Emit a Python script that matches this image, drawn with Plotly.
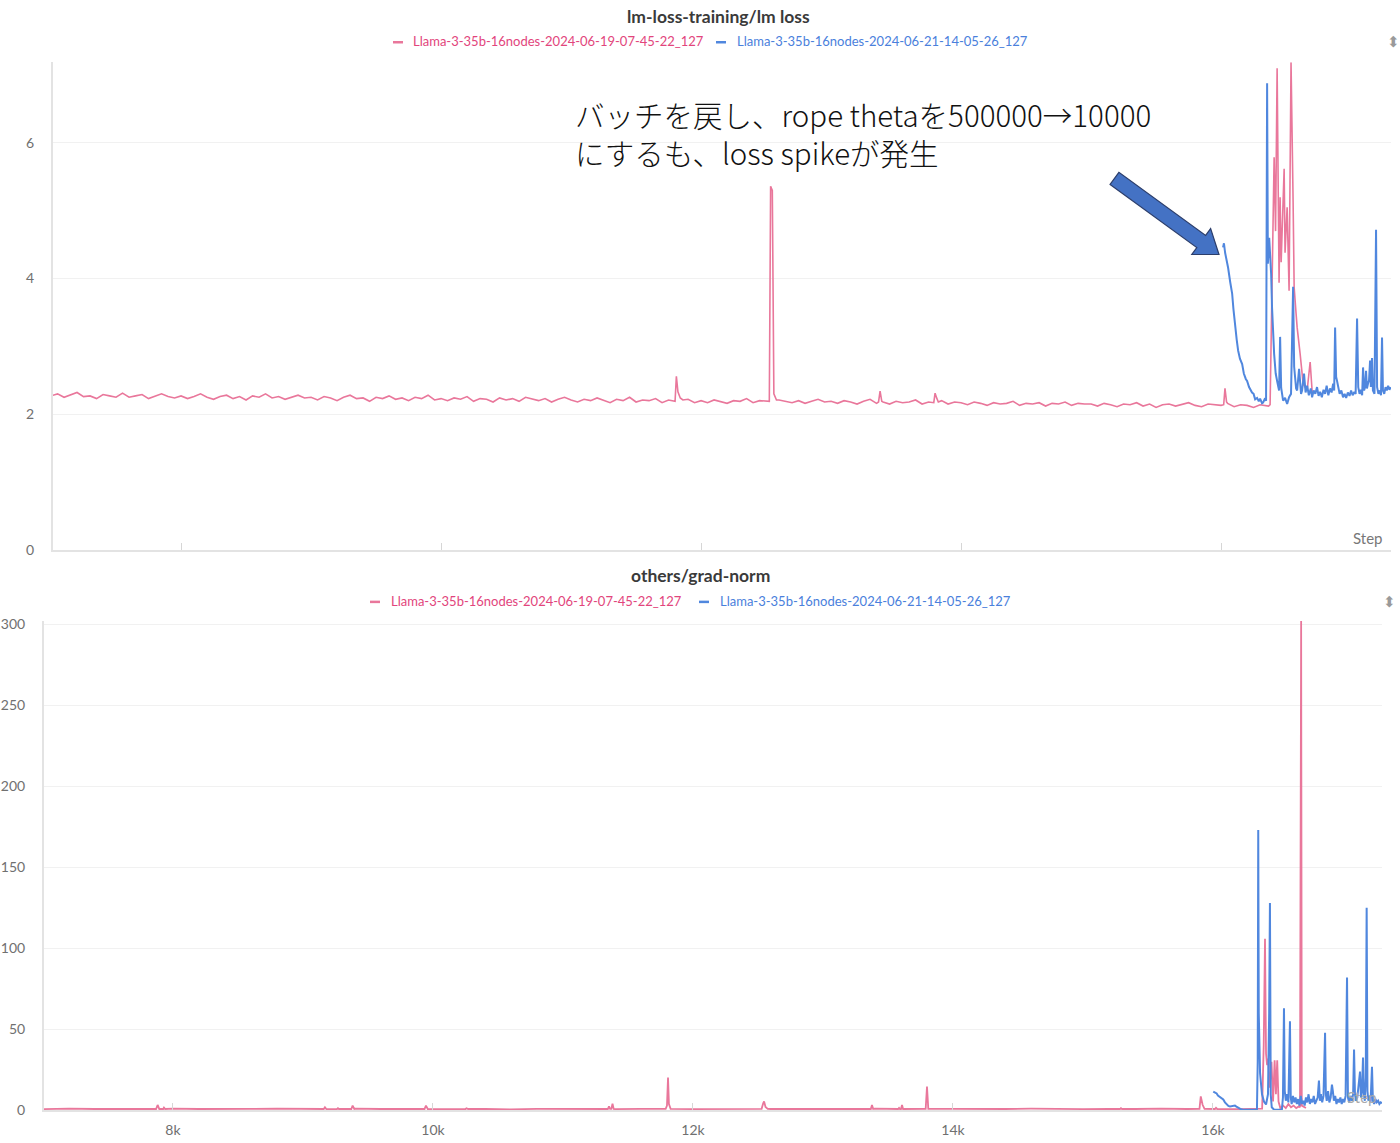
import math
import plotly.graph_objects as go

# ---------------- DATA ----------------
RUN_A = "Llama-3-35b-16nodes-2024-06-19-07-45-22_127"
RUN_B = "Llama-3-35b-16nodes-2024-06-21-14-05-26_127"

# lm loss, run A: baseline sampled every 50 steps from step 7000
loss_a_base_start = 7000
loss_a_base_step = 50
loss_a_base = [
    2.27, 2.30, 2.25, 2.28, 2.32, 2.26, 2.27, 2.23, 2.29, 2.27, 2.25, 2.31, 2.25, 2.27, 2.29, 2.23, 2.27, 2.30, 2.26, 2.24,
    2.27, 2.23, 2.26, 2.30, 2.25, 2.22, 2.26, 2.28, 2.23, 2.26, 2.21, 2.27, 2.25, 2.30, 2.24, 2.26, 2.22, 2.25, 2.28, 2.24,
    2.25, 2.21, 2.26, 2.24, 2.20, 2.25, 2.28, 2.23, 2.24, 2.19, 2.25, 2.23, 2.27, 2.22, 2.24, 2.20, 2.25, 2.23, 2.28, 2.21,
    2.23, 2.20, 2.24, 2.22, 2.26, 2.19, 2.23, 2.22, 2.18, 2.24, 2.21, 2.23, 2.19, 2.25, 2.22, 2.20, 2.23, 2.18, 2.22, 2.25,
    2.21, 2.18, 2.22, 2.20, 2.24, 2.21, 2.17, 2.22, 2.20, 2.25, 2.18, 2.21, 2.20, 2.23, 2.17, 2.21, 2.19, 2.20, 2.22, 2.17,
    2.20, 2.17, 2.21, 2.19, 2.16, 2.20, 2.19, 2.23, 2.17, 2.20, 2.19, 2.16, 2.21, 2.19, 2.17, 2.20, 2.16, 2.19, 2.22, 2.18,
    2.19, 2.16, 2.20, 2.18, 2.15, 2.19, 2.22, 2.16, 2.18, 2.15, 2.19, 2.17, 2.18, 2.21, 2.15, 2.18, 2.17, 2.20, 2.15, 2.18,
    2.17, 2.14, 2.18, 2.16, 2.13, 2.17, 2.15, 2.16, 2.19, 2.13, 2.16, 2.15, 2.17, 2.12, 2.16, 2.15, 2.18, 2.13, 2.16, 2.15,
    2.15, 2.12, 2.16, 2.14, 2.11, 2.15, 2.14, 2.17, 2.12, 2.15, 2.10, 2.14, 2.15, 2.12, 2.14, 2.17, 2.13, 2.11, 2.15, 2.14,
    2.13, 2.16, 2.11, 2.14, 2.13, 2.10, 2.14, 2.13,
]
loss_a_bursts = [
    [(11800, 2.19), (11810, 2.56), (11822, 2.33), (11840, 2.24), (11860, 2.21)],
    [(12525, 2.19), (12535, 5.36), (12548, 5.30), (12560, 2.30), (12580, 2.21)],
    [(13365, 2.18), (13377, 2.34), (13390, 2.19)],
    [(13790, 2.17), (13800, 2.31), (13812, 2.24), (13825, 2.18)],
    [(16020, 2.14), (16030, 2.38), (16042, 2.18)],
    [(16365, 2.12), (16377, 2.14), (16408, 5.79), (16419, 4.70), (16431, 7.10), (16446, 3.94),
     (16454, 5.20), (16462, 4.24), (16485, 5.62), (16492, 4.38), (16508, 5.05), (16523, 3.82),
     (16538, 7.19), (16554, 5.13), (16562, 3.87), (16577, 3.48), (16585, 3.28), (16608, 2.89),
     (16631, 2.45), (16662, 2.35), (16685, 2.77), (16700, 2.35), (16715, 2.32)],
]

# lm loss, run B
loss_b_steps = [
    16015, 16022, 16031, 16040, 16054, 16070, 16085, 16095, 16108, 16120, 16131, 16145, 16162, 16175,
    16190, 16200, 16215, 16225, 16238, 16250, 16262, 16277, 16290, 16300, 16315, 16323, 16335, 16346,
    16354, 16360, 16370, 16385, 16392, 16408, 16420, 16431, 16446, 16454, 16462, 16477, 16492, 16508,
    16523, 16538, 16554, 16562, 16569, 16577, 16585, 16600, 16615, 16623, 16638, 16650, 16662, 16675,
    16690, 16700, 16712, 16725, 16738, 16750, 16762, 16775, 16788, 16800, 16812, 16825, 16838, 16850,
    16862, 16870, 16877, 16885, 16892, 16900, 16912, 16925, 16938, 16950, 16962, 16975, 16988, 17000,
    17012, 17025, 17035, 17046, 17055, 17065, 17075, 17085, 17092, 17100, 17108, 17115, 17122, 17130,
    17138, 17146, 17152, 17161, 17168, 17180, 17192, 17200, 17210, 17220, 17230, 17238, 17245, 17255,
    17265, 17275, 17285, 17295, 17305,
]
loss_b_values = [
    4.46, 4.52, 4.38, 4.30, 4.16, 3.95, 3.78, 3.55, 3.28, 3.10, 2.94, 2.82, 2.74, 2.60,
    2.52, 2.49, 2.40, 2.36, 2.32, 2.30, 2.22, 2.24, 2.19, 2.23, 2.16, 2.17, 2.22, 2.20,
    6.88, 4.22, 4.60, 4.07, 3.57, 2.89, 2.60, 2.49, 2.35, 3.14, 2.39, 2.20, 2.24, 2.15,
    2.25, 2.30, 3.88, 2.70, 2.49, 2.38, 2.35, 2.67, 2.30, 2.35, 2.60, 2.32, 2.42, 2.28,
    2.38, 2.25, 2.35, 2.30, 2.40, 2.27, 2.33, 2.25, 2.36, 2.30, 2.42, 2.28, 2.38, 2.32,
    2.45, 2.35, 3.28, 2.55, 2.49, 2.40, 2.30, 2.35, 2.25, 2.30, 2.24, 2.32, 2.27, 2.35,
    2.28, 2.33, 2.30, 3.41, 2.40, 2.30, 2.36, 2.28, 2.69, 2.35, 2.40, 2.64, 2.38, 2.45,
    2.50, 2.79, 2.40, 2.83, 2.35, 2.30, 4.72, 2.40, 2.30, 2.35, 2.28, 3.13, 2.35, 2.30,
    2.40, 2.35, 2.42, 2.36, 2.40,
]

# grad-norm, run A: baseline sampled every 200 steps from step 7000
grad_a_base_start = 7000
grad_a_base_step = 200
grad_a_base = [
    0.8, 1.2, 0.9, 1.0, 0.7, 1.1, 0.9, 0.8, 1.0, 1.2, 0.9, 0.8, 1.1, 0.9, 1.0, 0.8,
    1.1, 0.9, 0.7, 1.0, 0.9, 1.1, 0.8, 1.0, 0.9, 0.8, 1.0, 1.1, 0.9, 0.8, 1.0, 0.9,
    1.1, 0.8, 0.9, 1.0, 0.8, 0.9, 1.1, 0.9, 0.8, 1.0, 0.9, 1.2, 0.9, 1.0, 0.8,
]
grad_a_bursts = [
    [(7870, 0.9), (7882, 3.4), (7895, 0.9)],
    [(7925, 0.9), (7931, 1.8), (7940, 0.9)],
    [(9160, 0.9), (9169, 2.0), (9180, 0.9)],
    [(9262, 0.9), (9269, 1.4), (9276, 0.9)],
    [(9372, 0.9), (9382, 3.0), (9395, 0.9)],
    [(9935, 0.9), (9946, 3.0), (9960, 0.9)],
    [(10250, 0.9), (10258, 1.4), (10270, 0.9)],
    [(11345, 0.9), (11354, 2.6), (11362, 1.0), (11372, 1.0), (11381, 4.2), (11390, 0.9)],
    [(11790, 1.0), (11800, 3.0), (11808, 20.3), (11815, 4.0), (11828, 1.0)],
    [(12528, 1.0), (12540, 4.4), (12547, 5.6), (12558, 2.2), (12575, 1.0)],
    [(13368, 0.9), (13377, 3.4), (13386, 0.9)],
    [(13578, 0.9), (13585, 1.6), (13592, 0.9), (13600, 0.9), (13608, 3.4), (13616, 0.9)],
    [(13790, 1.0), (13800, 14.8), (13810, 1.0)],
    [(15285, 0.9), (15292, 1.4), (15300, 0.9)],
    [(15896, 1.0), (15906, 8.7), (15920, 3.5), (15935, 1.0)],
    [(16015, 0.9), (16023, 1.6), (16032, 0.9)],
    [(16360, 1.0), (16378, 1.2), (16390, 40), (16400, 106), (16408, 35), (16416, 28), (16424, 32),
     (16436, 14), (16450, 30), (16462, 5.5), (16474, 31), (16484, 10), (16494, 31), (16504, 5.5),
     (16518, 1.5), (16540, 3), (16560, 1.5), (16580, 4), (16600, 2), (16620, 3), (16640, 1.5),
     (16660, 2.5), (16669, 2), (16673, 302), (16678, 302), (16683, 3), (16700, 2), (16715, 1.5)],
]

# grad-norm, run B
grad_b_steps = [
    16002, 16015, 16028, 16038, 16048, 16058, 16067, 16079, 16092, 16105, 16118, 16131, 16150, 16169,
    16180, 16192, 16210, 16231, 16260, 16300, 16338, 16344, 16348, 16352, 16356, 16362, 16370, 16377,
    16392, 16408, 16423, 16432, 16438, 16444, 16452, 16470, 16500, 16530, 16538, 16546, 16552, 16560,
    16570, 16580, 16592, 16598, 16605, 16615, 16625, 16635, 16645, 16655, 16665, 16675, 16685, 16695,
    16705, 16715, 16725, 16735, 16745, 16755, 16765, 16775, 16785, 16795, 16805, 16815, 16822, 16830,
    16840, 16850, 16862, 16868, 16875, 16885, 16895, 16905, 16915, 16922, 16930, 16940, 16950, 16960,
    16970, 16980, 16990, 17000, 17010, 17020, 17031, 17038, 17048, 17058, 17068, 17078, 17085, 17092,
    17100, 17110, 17120, 17131, 17138, 17146, 17154, 17160, 17168, 17175, 17182, 17188, 17195, 17205,
    17212, 17223, 17230, 17240, 17250, 17260, 17270, 17280, 17290, 17300,
]
grad_b_values = [
    11.7, 11.0, 10.5, 9.2, 8.6, 7.8, 7.4, 6.8, 5.0, 3.7, 2.8, 2.5, 2.7, 3.0,
    2.4, 1.8, 1.0, 0.5, 0.4, 0.4, 0.5, 30, 173, 60, 28, 23, 16, 10,
    5.5, 3.7, 10, 60, 128, 10, 2, 0.5, 0.5, 0.6, 8, 63, 12, 6,
    10, 5, 55, 8, 4, 9, 5, 8, 4, 7, 3, 9, 4, 6,
    3, 8, 5, 10, 4, 7, 5, 9, 4, 6, 8, 18.5, 6, 10,
    5, 9, 48, 10, 6, 12, 5, 8, 16, 12, 6, 9, 4, 7,
    5, 8, 4, 7, 5, 9, 82, 8, 5, 9, 6, 10, 37.6, 10,
    6, 8, 14, 24, 8, 12, 32.7, 10, 6, 20, 125, 12, 6, 9,
    5, 27, 6, 4, 7, 5, 6, 4, 5, 4.5,
]

x_tick_vals = [8000, 10000, 12000, 14000, 16000]
x_tick_text = ["8k", "10k", "12k", "14k", "16k"]
loss_tick_vals = [0, 2, 4, 6]
grad_tick_vals = [0, 50, 100, 150, 200, 250, 300]

TITLE_TOP = "lm-loss-training/lm loss"
TITLE_BOTTOM = "others/grad-norm"
NOTE = "バッチを戻し、rope thetaを500000→10000<br>にするも、loss spikeが発生"


def merge(start, step, base, bursts):
    pts = [(start + i * step, v) for i, v in enumerate(base)]
    for b in bursts:
        lo, hi = b[0][0], b[-1][0]
        pts = [p for p in pts if not (lo <= p[0] <= hi)]
        pts.extend(b)
    pts.sort()
    xs, ys = zip(*pts)
    return list(xs), list(ys)


loss_a_steps, loss_a_values = merge(loss_a_base_start, loss_a_base_step, loss_a_base, loss_a_bursts)
grad_a_steps, grad_a_values = merge(grad_a_base_start, grad_a_base_step, grad_a_base, grad_a_bursts)

# ---------------- STYLE ----------------
W = 1400
Y0, YSPAN = 5.8, 1127.7   # vertical pixel span that the paper occupies in the rendered page
PINK = "#E9779B"
BLUE = "#5087DE"
PINK_TXT = "#E2457C"
BLUE_TXT = "#4A80DC"
AXIS = "#e3e3e3"
GRID = "#f1f1f1"
TICKC = "#707070"
FONT = "Lato"


def px(p):
    return p / W


def py(p):
    return 1 - (p - Y0) / YSPAN


fig = go.Figure()
fig.add_trace(go.Scatter(x=loss_a_steps, y=loss_a_values, mode="lines", name=RUN_A,
                         line=dict(color=PINK, width=1.6), xaxis="x", yaxis="y"))
fig.add_trace(go.Scatter(x=loss_b_steps, y=loss_b_values, mode="lines", name=RUN_B,
                         line=dict(color=BLUE, width=2), xaxis="x", yaxis="y"))
fig.add_trace(go.Scatter(x=grad_a_steps, y=grad_a_values, mode="lines", name=RUN_A,
                         line=dict(color=PINK, width=1.8), xaxis="x2", yaxis="y2"))
fig.add_trace(go.Scatter(x=grad_b_steps, y=grad_b_values, mode="lines", name=RUN_B,
                         line=dict(color=BLUE, width=2), xaxis="x2", yaxis="y2"))

common_x = dict(showgrid=False, zeroline=False, showline=True, linecolor=AXIS, linewidth=2,
                ticks="inside", ticklen=7, tickcolor="#d6d6d6", tickwidth=1,
                tickvals=x_tick_vals, ticktext=x_tick_text,
                tickfont=dict(family=FONT, size=14, color=TICKC))
common_y = dict(showgrid=True, gridcolor=GRID, gridwidth=1, zeroline=False, showline=True,
                linecolor=AXIS, linewidth=2, ticks="",
                tickfont=dict(family=FONT, size=14, color=TICKC))

fig.update_layout(
    autosize=True, margin=dict(l=0, r=0, t=0, b=0),
    paper_bgcolor="white", plot_bgcolor="white", showlegend=False,
    font=dict(family=FONT, color="#333"),
    xaxis=dict(domain=[px(53), px(1391)], range=[7015, 17307], anchor="y",
               showticklabels=False, **common_x),
    yaxis=dict(domain=[py(549), py(62)], range=[0, 7.19], anchor="x",
               tickvals=loss_tick_vals, ticklabelstandoff=14, **common_y),
    xaxis2=dict(domain=[px(44), px(1382)], range=[7008, 17300], anchor="y2",
                showticklabels=True, ticklabelstandoff=6, **common_x),
    yaxis2=dict(domain=[py(1109), py(620)], range=[0, 302], anchor="x2",
                tickvals=grad_tick_vals, ticklabelstandoff=14, **common_y),
)

ann = []
shapes = []
# titles
ann.append(dict(text="<b>" + TITLE_TOP + "</b>", x=px(718), y=py(16), xref="paper", yref="paper",
                xanchor="center", yanchor="middle", showarrow=False,
                font=dict(family=FONT, size=17.5, color="#3a3a3a")))
ann.append(dict(text="<b>" + TITLE_BOTTOM + "</b>", x=px(700), y=py(575), xref="paper", yref="paper",
                xanchor="center", yanchor="middle", showarrow=False,
                font=dict(family=FONT, size=17.5, color="#3a3a3a")))

# legends
for (dash_l, txt_l, ly, color_line, color_txt, label) in [
    (393, 411, 42, PINK, PINK_TXT, RUN_A),
    (716, 735, 42, BLUE, BLUE_TXT, RUN_B),
    (370, 389, 601, PINK, PINK_TXT, RUN_A),
    (699, 718, 601, BLUE, BLUE_TXT, RUN_B),
]:
    shapes.append(dict(type="line", xref="paper", yref="paper", x0=px(dash_l), x1=px(dash_l + 10),
                       y0=py(ly), y1=py(ly), line=dict(color=color_line, width=2.5)))
    ann.append(dict(text=label, x=px(txt_l), y=py(ly - 1), xref="paper", yref="paper",
                    xanchor="left", yanchor="middle", showarrow=False,
                    font=dict(family=FONT, size=13, color=color_txt)))

# small scroll icons at the right of the legends
for (ix, iy) in [(1393, 42), (1389, 601)]:
    ann.append(dict(text="⬍", x=px(ix), y=py(iy), xref="paper", yref="paper",
                    xanchor="center", yanchor="middle", showarrow=False,
                    font=dict(family="DejaVu Sans", size=15, color="#9a9a9a")))

# "Step" labels
ann.append(dict(text="Step", x=px(1384), y=py(537), xref="paper", yref="paper",
                xanchor="right", yanchor="middle", showarrow=False,
                font=dict(family=FONT, size=15, color="#777")))
ann.append(dict(text="Step", x=px(1378), y=py(1096), xref="paper", yref="paper",
                xanchor="right", yanchor="middle", showarrow=False,
                font=dict(family=FONT, size=15, color="#aaa")))

# note text (two lines)
ann.append(dict(text=NOTE, x=px(573), y=py(133), xref="paper", yref="paper",
                xanchor="left", yanchor="middle", align="left", showarrow=False,
                font=dict(family="Noto Sans CJK JP", size=29.5, color="#111", weight=300)))

# block arrow
tx, ty = 1114.5, 178.0
tipx, tipy = 1219.0, 254.0
dx, dy = tipx - tx, tipy - ty
L = math.hypot(dx, dy)
ux, uy = dx / L, dy / L
nx, ny = -uy, ux
w, hw, hl = 7.5, 16.0, 22.0
bx, by = tx + (L - hl) * ux, ty + (L - hl) * uy
poly = [
    (tx + w * nx, ty + w * ny), (bx + w * nx, by + w * ny), (bx + hw * nx, by + hw * ny),
    (tipx, tipy),
    (bx - hw * nx, by - hw * ny), (bx - w * nx, by - w * ny), (tx - w * nx, ty - w * ny),
]
path = "M " + " L ".join(f"{px(a):.5f},{py(b):.5f}" for a, b in poly) + " Z"
shapes.append(dict(type="path", xref="paper", yref="paper", path=path,
                   fillcolor="#4472C4", line=dict(color="#2C3E6B", width=1.2)))

fig.update_layout(annotations=ann, shapes=shapes)

fig.write_html(
    "out.html",
    config={"displayModeBar": False, "responsive": True},
    default_width="100vw",
    default_height="100vh",
    post_script=("document.documentElement.style.overflow='hidden';"
                 "document.body.style.overflow='hidden';"
                 "document.body.style.margin='0';"
                 "Plotly.Plots.resize(document.getElementById('{plot_id}'));"),
)
